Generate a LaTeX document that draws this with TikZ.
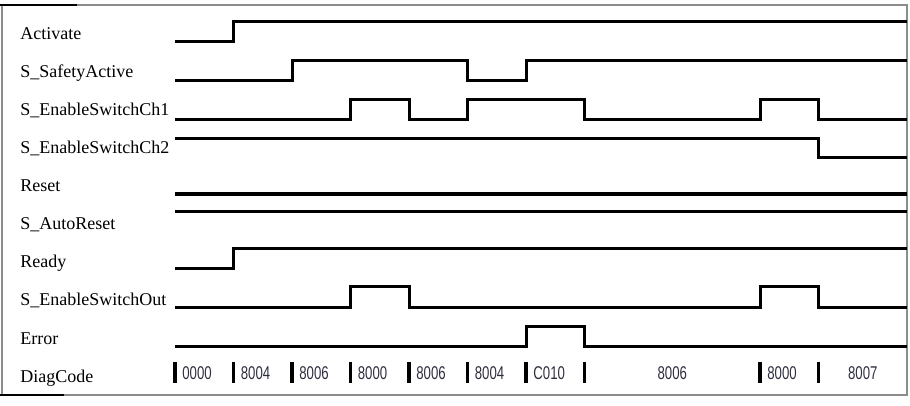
\documentclass[tikz,border=0pt]{standalone}
\usepackage{fontspec}
\setmainfont{Liberation Serif}
\newfontfamily\codefont{Liberation Sans}
\usepackage{graphicx}
\usetikzlibrary{positioning}
\definecolor{tdframe}{HTML}{8C8C8C}
\definecolor{tdcode}{HTML}{2E2E40}
\newcommand{\diagtext}[1]{\scalebox{1}[1.4]{\codefont #1}}
\tikzset{
  siglabel/.style={anchor=base west, inner sep=0pt, font=\fontsize{9}{10}\selectfont},
  wave/.style={line width=1.5pt, line join=miter},
  codebar/.style={line width=1.6pt},
  codetxt/.style={inner sep=0pt, text=tdcode, font=\fontsize{6.6}{7}\selectfont}
}

\begin{document}
\begin{tikzpicture}[x=0.5pt, y=-0.5pt, line cap=butt]
  \useasboundingbox (0,0) rectangle (910,406);
  % frame
  \draw[tdframe, line width=0.7pt] (2,5) rectangle (907,395);
  \draw[line width=0.7pt] (0,5) -- (77,5);
  \draw[line width=0.7pt] (0,395) -- (64,395);
  % signal names
  \foreach \name [count=\i from 0] in {Activate, S\_SafetyActive, S\_EnableSwitchCh1,
      S\_EnableSwitchCh2, Reset, S\_AutoReset, Ready, S\_EnableSwitchOut, Error, DiagCode}
    \node[siglabel] (lbl\i) at (20,40+38*\i) {\name};
  % waveforms, one time step = 58.5px
  \begin{scope}[shift={(175,0)}, x=29.25pt]
    \def\tend{12.513}
    \draw[wave] (0,42) -- (1,42) -- (1,22) -- (\tend,22);
    \draw[wave] (0,81) -- (2,81) -- (2,61) -- (5,61) -- (5,81) -- (6,81) -- (6,61) -- (\tend,61);
    \draw[wave] (0,120) -- (3,120) -- (3,100) -- (4,100) -- (4,120) -- (5,120) -- (5,100)
      -- (7,100) -- (7,120) -- (10,120) -- (10,100) -- (11,100) -- (11,120) -- (\tend,120);
    \draw[wave] (0,139) -- (11,139) -- (11,158) -- (\tend,158);
    \draw[wave, line width=2pt] (0,194) -- (\tend,194);
    \draw[wave] (0,212) -- (\tend,212);
    \draw[wave] (0,269) -- (1,269) -- (1,249) -- (\tend,249);
    \draw[wave] (0,307) -- (3,307) -- (3,287) -- (4,287) -- (4,307) -- (10,307) -- (10,287)
      -- (11,287) -- (11,307) -- (\tend,307);
    \draw[wave] (0,346) -- (6,346) -- (6,326) -- (7,326) -- (7,346) -- (\tend,346);
    % diagnostic codes
    \foreach \t in {0,...,7,10,11}
      \draw[codebar] (\t,362) -- (\t,383);
    \foreach \t/\code in {0/0000, 1/8004, 2/8006, 3/8000, 4/8006, 5/8004, 6/C010, 10/8000}
      \node[codetxt, anchor=west, xshift=3.5pt] (code\t) at (\t,373.5) {\diagtext{\code}};
    \node[codetxt] (code8) at (8.5,373.5) {\diagtext{8006}};
    \node[codetxt] (code11) at ({(11+\tend)/2},373.5) {\diagtext{8007}};
  \end{scope}
\end{tikzpicture}
\end{document}
